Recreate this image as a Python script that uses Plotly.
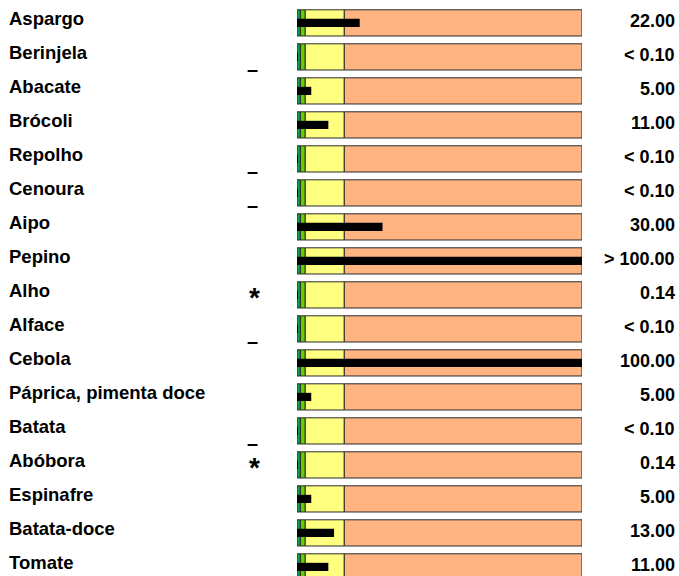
import plotly.graph_objects as go

categories = ["Aspargo", "Berinjela", "Abacate", "Brócoli", "Repolho", "Cenoura", "Aipo",
              "Pepino", "Alho", "Alface", "Cebola", "Páprica, pimenta doce", "Batata",
              "Abóbora", "Espinafre", "Batata-doce", "Tomate"]
values = [22, 0.1, 5, 11, 0.1, 0.1, 30, 100, 0.14, 0.1, 100, 5, 0.1, 0.14, 5, 13, 11]
value_labels = ["22.00", "< 0.10", "5.00", "11.00", "< 0.10", "< 0.10", "30.00", "> 100.00",
                "0.14", "< 0.10", "100.00", "5.00", "< 0.10", "0.14", "5.00", "13.00", "11.00"]
markers = ["", "–", "", "", "–", "–", "", "", "*", "–", "", "", "–", "*", "", "", ""]

# background scale bands (start, end, colour)
band_edges = [0, 1.2, 2.9, 16.6, 100]
band_colors = ["#00A550", "#66CC00", "#FFFF80", "#FFB482"]

W, H = 679, 576
PITCH = 34.0
C0 = 22.9
n = len(categories)
rows = list(range(n))

fig = go.Figure()
for k, col in enumerate(band_colors):
    start, end = band_edges[k], band_edges[k + 1]
    fig.add_trace(go.Bar(
        orientation="h", y=rows, x=[end - start] * n, base=[start] * n,
        width=0.77, marker=dict(color=col, line=dict(color="#2a2a2a", width=1)),
        hoverinfo="skip", showlegend=False))

fig.add_trace(go.Bar(
    orientation="h", y=rows, x=values, base=[0] * n, width=0.24,
    marker=dict(color="#000000", line=dict(width=0)), showlegend=False))

fam = "Liberation Sans, Arial, sans-serif"
lab_font = dict(family=fam, size=18.5, color="#000000")
val_font = dict(family=fam, size=18, color="#000000")
ann = []
for i in rows:
    ann.append(dict(x=8 / W, xref="paper", y=i - 4.5 / PITCH, yref="y", text="<b>%s</b>" % categories[i],
                    showarrow=False, xanchor="left", yanchor="middle", font=lab_font, borderpad=0))
    ann.append(dict(x=676 / W, xref="paper", y=i - 1.8 / PITCH, yref="y", text="<b>%s</b>" % value_labels[i],
                    showarrow=False, xanchor="right", yanchor="middle", font=val_font, borderpad=0))
    if markers[i] == "*":
        ann.append(dict(x=254 / W, xref="paper", y=i + 2.5 / PITCH, yref="y", text="<b>*</b>",
                        showarrow=False, xanchor="center", yanchor="middle",
                        font=dict(family=fam, size=28, color="#000")))
    elif markers[i]:
        ann.append(dict(x=252 / W, xref="paper", y=i + 12.4 / PITCH, yref="y", text="<b>–</b>",
                        showarrow=False, xanchor="center", yanchor="middle",
                        font=dict(family=fam, size=20, color="#000")))

fig.update_layout(
    width=W, height=H, margin=dict(l=0, r=0, t=0, b=0),
    paper_bgcolor="white", plot_bgcolor="white", barmode="overlay",
    xaxis=dict(domain=[297 / W, 582 / W], range=[0, 100], visible=False, fixedrange=True),
    yaxis=dict(range=[(H - C0) / PITCH, -C0 / PITCH], visible=False, fixedrange=True),
    annotations=ann, showlegend=False,
)
fig.write_html("out.html", config={"displayModeBar": False},
               post_script="document.body.style.margin='0';document.body.style.overflow='hidden';")
